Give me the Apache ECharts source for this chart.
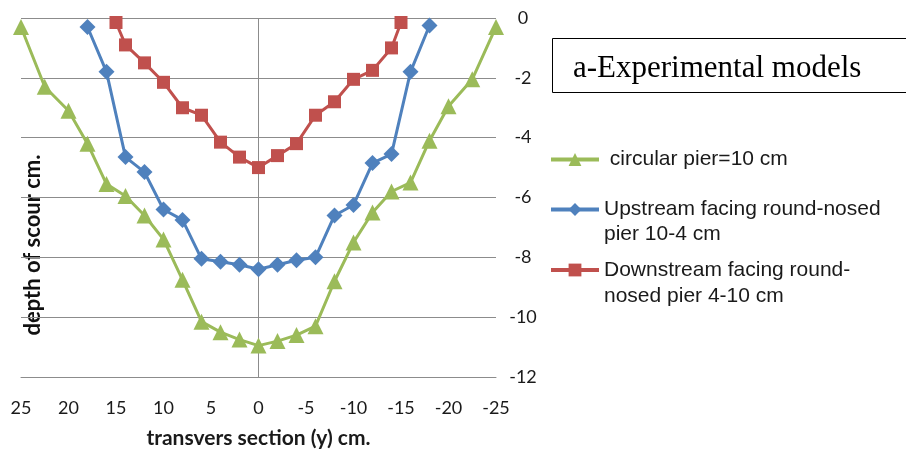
<!DOCTYPE html>
<html>
<head>
<meta charset="utf-8">
<script src="https://cdn.jsdelivr.net/npm/echarts@6/dist/echarts.min.js"></script>
<style>html,body{margin:0;padding:0;background:#fff;overflow:hidden;}#c{width:906px;height:451px;}</style>
</head>
<body>
<div id="c"></div>
<script>
// ---- data ----
const circularX = [25, 22.5, 20, 18, 16, 14, 12, 10, 8, 6, 4, 2, 0, -2, -4, -6, -8, -10, -12, -14, -16, -18, -20, -22.5, -25];
const circularY = [-0.3, -2.3, -3.1, -4.2, -5.55, -5.95, -6.6, -7.4, -8.75, -10.15, -10.5, -10.75, -10.95, -10.8, -10.6, -10.3, -8.8, -7.5, -6.5, -5.8, -5.5, -4.1, -2.95, -2.05, -0.3];
const upstreamX = [18, 16, 14, 12, 10, 8, 6, 4, 2, 0, -2, -4, -6, -8, -10, -12, -14, -16, -18];
const upstreamY = [-0.3, -1.8, -4.65, -5.15, -6.4, -6.75, -8.05, -8.15, -8.25, -8.4, -8.25, -8.1, -8.0, -6.6, -6.25, -4.85, -4.55, -1.8, -0.25];
const downstreamX = [15, 14, 12, 10, 8, 6, 4, 2, 0, -2, -4, -6, -8, -10, -12, -14, -15];
const downstreamY = [-0.15, -0.9, -1.5, -2.15, -3.0, -3.25, -4.15, -4.65, -5.0, -4.6, -4.2, -3.25, -2.8, -2.05, -1.75, -1.0, -0.15];
const seriesNames = [' circular pier=10 cm', 'Upstream facing round-nosed\npier 10-4 cm', 'Downstream facing round-\nnosed pier 4-10 cm'];
const xTicks = {min: -25, max: 25, step: 5};
const yTicks = {min: -12, max: 0, step: 2};
const xTitle = 'transvers section (y) cm.';
const yTitle = 'depth of scour cm.';
const boxTitle = 'a-Experimental models';

const zip = (xs, ys) => xs.map((x, i) => [x, ys[i]]);
const gridColor = '#8c8c8c';
const labelFont = 'Lato, "Open Sans", sans-serif';

const chart = echarts.init(document.getElementById('c'), null, {width: 906, height: 451});
const legendBase = {
  orient: 'vertical', itemWidth: 48, itemHeight: 16, selectedMode: false, padding: 0,
  lineStyle: {width: 4},
  textStyle: {fontFamily: '"Liberation Sans", Arial, sans-serif', fontSize: 21, color: '#1a1a1a', lineHeight: 25}
};
// two-line labels: a leading empty line puts the icon level with the first text line
const firstLineAligned = name => '\n' + name;
chart.setOption({
  animation: false,
  backgroundColor: '#fff',
  grid: {left: 21, right: 410, top: 18, bottom: 74, containLabel: false, outerBoundsMode: 'none'},
  xAxis: {
    type: 'value', inverse: true, min: xTicks.min, max: xTicks.max, interval: xTicks.step,
    axisLine: {show: true, onZero: false, lineStyle: {color: gridColor, width: 1}},
    axisTick: {show: false}, splitLine: {show: false},
    axisLabel: {color: '#1a1a1a', fontSize: 18, fontFamily: labelFont, margin: 22},
    name: xTitle, nameLocation: 'middle', nameGap: 51,
    nameTextStyle: {fontWeight: 'bold', fontSize: 21, color: '#1a1a1a', fontFamily: labelFont}
  },
  yAxis: {
    type: 'value', position: 'right', min: yTicks.min, max: yTicks.max, interval: yTicks.step,
    axisLine: {show: false}, axisTick: {show: false},
    splitLine: {show: true, lineStyle: {color: gridColor, width: 1}},
    axisLabel: {color: '#1a1a1a', fontSize: 18, fontFamily: labelFont, align: 'center', margin: 27}
  },
  legend: [
    Object.assign({}, legendBase, {left: 549, top: 147, data: [seriesNames[0]]}),
    Object.assign({}, legendBase, {left: 549, top: 172, data: [seriesNames[1]], formatter: firstLineAligned}),
    Object.assign({}, legendBase, {left: 549, top: 231, data: [seriesNames[2]], formatter: firstLineAligned,
      textStyle: Object.assign({}, legendBase.textStyle, {lineHeight: 26})})
  ],
  graphic: [
    {type: 'rect', left: 552, top: 38, shape: {width: 360, height: 54}, style: {fill: '#fff', stroke: '#000', lineWidth: 1}},
    {type: 'text', left: 573, top: 53, style: {text: boxTitle, font: '31px "Liberation Serif", "Times New Roman", serif', fill: '#000'}},
    {type: 'text', x: 33, y: 245, rotation: Math.PI / 2,
     style: {text: yTitle, font: 'bold 22px Lato, "Open Sans", sans-serif', fill: '#111', align: 'center', verticalAlign: 'middle'}}
  ],
  series: [
    {name: seriesNames[0], type: 'line', data: zip(circularX, circularY), color: '#9BBB59',
     symbol: 'triangle', symbolSize: 16, lineStyle: {width: 3}, itemStyle: {color: '#9BBB59'}, z: 3,
     markLine: {silent: true, symbol: 'none', label: {show: false}, lineStyle: {color: gridColor, width: 1, type: 'solid'}, data: [{xAxis: 0}], z: 1}},
    {name: seriesNames[1], type: 'line', data: zip(upstreamX, upstreamY), color: '#4F81BD',
     symbol: 'diamond', symbolSize: 16, lineStyle: {width: 3}, itemStyle: {color: '#4F81BD'}, z: 4},
    {name: seriesNames[2], type: 'line', data: zip(downstreamX, downstreamY), color: '#C0504D',
     symbol: 'rect', symbolSize: 13, lineStyle: {width: 3}, itemStyle: {color: '#C0504D'}, z: 5}
  ]
});
</script>
</body>
</html>
